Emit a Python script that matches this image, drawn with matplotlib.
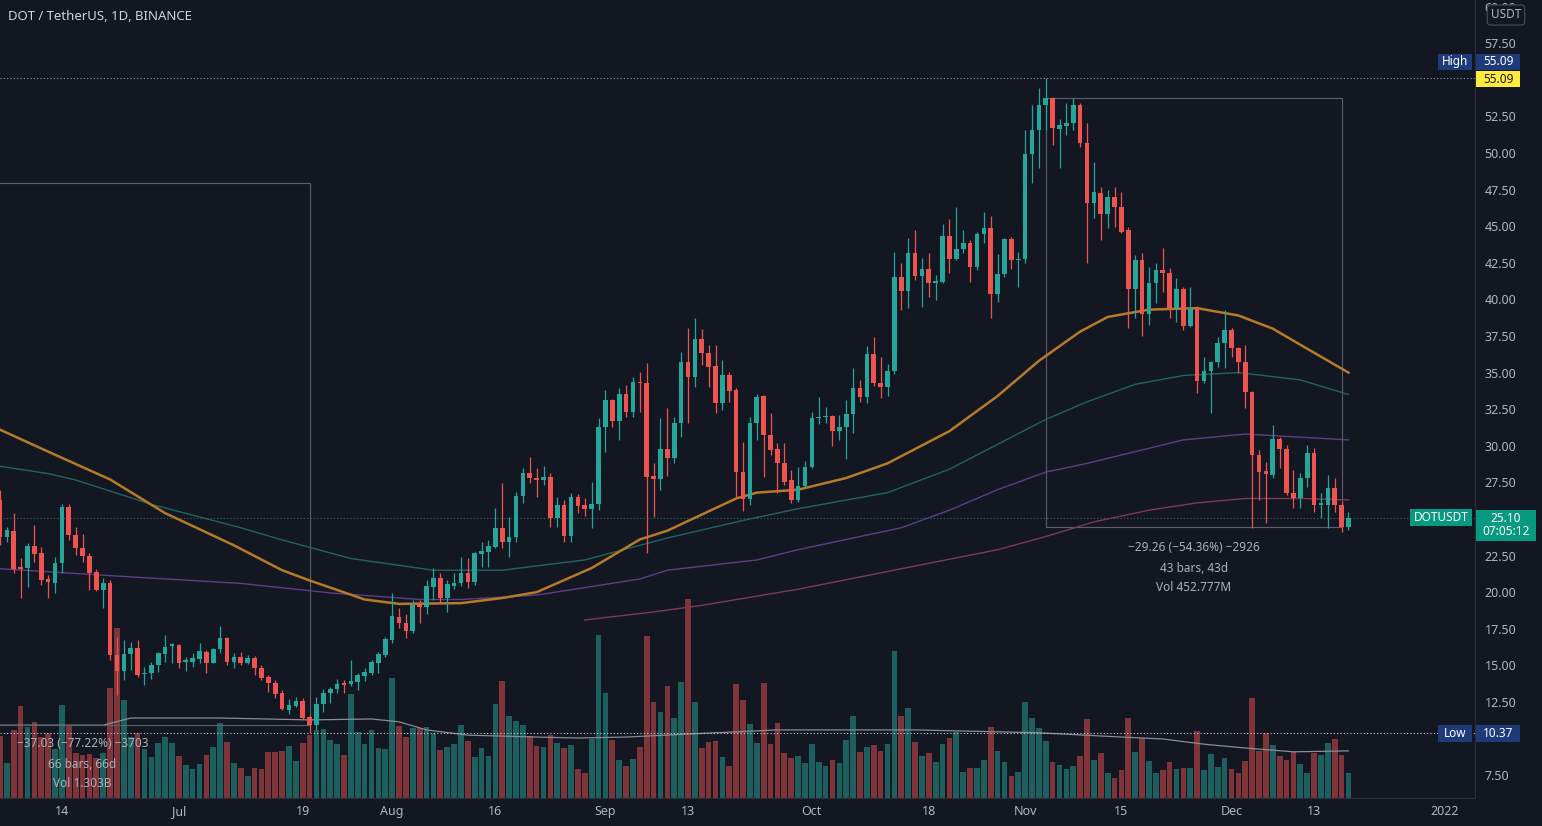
import matplotlib
matplotlib.use('Agg')

import numpy as np
import pandas as pd
import matplotlib.pyplot as plt
import matplotlib.dates as mdates
from matplotlib.patches import Rectangle

plt.rcParams['font.family'] = ['Noto Sans', 'DejaVu Sans']

# ---- daily candles, DOT/USDT, 2021-06-05 .. 2021-12-18 ----
dates = pd.date_range('2021-06-05', '2021-12-18', freq='D')

opens = [26.30, 23.80, 24.20, 21.70, 21.63, 23.15, 22.65, 20.92, 20.65, 21.97, 25.80, 23.90, 22.99, 22.50,
         21.40, 20.15, 20.60, 15.70, 14.64, 15.77, 16.16, 14.38, 14.45, 15.00, 15.77, 16.30,
         16.39, 15.20, 15.25, 15.41, 15.93, 15.18, 16.09, 16.84, 15.25, 15.60, 15.19, 15.48, 14.80, 14.18,
         13.77, 13.09, 11.95, 12.25, 12.59, 11.45, 10.91, 12.34, 13.09, 13.36, 13.77, 13.70, 13.89, 14.30,
         14.50, 15.19, 15.71,
         16.74, 18.33, 17.92, 17.37, 19.20, 19.00, 20.38, 20.95, 19.58, 20.40, 20.65, 21.29, 20.70, 22.61,
         22.77, 23.11, 24.36, 23.45, 23.79, 26.57, 28.12, 27.82, 27.66, 27.89, 25.05, 25.96, 23.84, 26.48,
         25.96, 25.66, 26.00,
         31.26, 33.13, 31.72, 33.54, 32.33, 34.34, 34.31, 27.94, 27.71, 29.76, 29.14, 31.54, 35.75, 34.72,
         37.27, 36.36, 35.45, 32.95, 34.84, 33.81, 28.23, 26.34, 31.54, 33.40, 30.74, 29.76, 28.80, 27.66,
         26.30, 27.25,
         28.53, 31.88, 31.99, 32.04, 31.03, 31.31, 32.15, 33.93, 33.31, 36.27, 34.31, 34.04, 35.13, 41.56,
         40.60, 43.15, 41.60, 42.06, 41.10, 41.21, 44.33, 42.74, 43.42, 43.83, 42.19, 44.47, 44.86, 40.37,
         41.74, 44.10, 42.69,
         42.75, 49.93, 51.57, 53.28, 53.74, 51.62, 51.87, 52.07, 53.28, 50.66, 46.61, 47.29, 45.81, 46.97,
         46.29, 44.74, 40.68, 42.69, 38.98, 41.14, 42.00, 41.82, 39.39, 40.70, 38.18, 39.39, 34.45, 35.11,
         35.74, 37.00,
         37.91, 36.65, 35.74, 33.69, 29.37, 28.30, 28.00, 30.44, 29.75, 26.80, 26.41, 27.77, 29.48, 25.95,
         25.95, 27.09, 25.95, 24.48]

highs = [27.00, 24.47, 25.38, 22.31, 23.33, 24.59, 23.10, 21.17, 22.38, 26.02, 26.02, 24.47, 24.00, 22.65,
         21.56, 20.94, 20.83, 16.96, 16.73, 16.60, 16.73, 14.91, 15.25, 15.93, 17.07, 16.50,
         16.45, 15.59, 15.82, 16.50, 16.05, 16.16, 17.69, 16.96, 15.86, 15.94, 15.71, 15.64, 15.03, 14.34,
         14.00, 13.32, 12.68, 12.86, 12.75, 11.61, 12.86, 13.36, 13.55, 14.05, 14.00, 15.37, 14.50, 14.80,
         15.37, 15.94, 16.96,
         19.92, 18.90, 18.51, 19.47, 19.47, 20.83, 21.63, 21.29, 20.83, 21.29, 22.43, 22.30, 22.77, 23.45,
         23.57, 25.73, 27.44, 25.16, 26.87, 28.46, 29.26, 28.46, 28.62, 28.12, 26.53, 26.30, 26.75, 26.71,
         26.41, 27.55, 31.88,
         33.81, 33.20, 33.93, 34.15, 34.72, 35.06, 35.68, 28.80, 31.88, 32.56, 31.99, 36.43, 38.02, 38.71,
         37.96, 36.89, 36.89, 35.86, 35.06, 33.93, 30.28, 31.99, 33.52, 33.47, 32.22, 30.17, 30.17, 28.35,
         28.57, 28.98,
         32.33, 33.36, 32.67, 32.10, 32.10, 33.13, 35.29, 34.50, 36.82, 37.41, 36.09, 35.60, 43.26, 42.51,
         44.17, 44.74, 42.81, 43.15, 41.67, 45.15, 45.47, 46.34, 44.74, 44.06, 44.63, 46.00, 45.70, 43.10,
         44.17, 44.24, 43.26,
         51.57, 53.28, 54.42, 55.09, 53.85, 52.30, 53.40, 53.74, 53.40, 52.03, 49.41, 47.70, 47.47, 47.70,
         47.35, 44.97, 43.03, 43.14, 42.23, 42.46, 43.48, 42.12, 41.44, 40.87, 40.87, 39.55, 36.09, 35.81,
         37.45, 39.27,
         38.02, 36.77, 36.88, 33.75, 29.71, 28.91, 31.42, 30.62, 30.05, 28.35, 28.11, 30.05, 29.82, 26.75,
         27.99, 27.77, 26.18, 25.50]

lows = [23.20, 23.45, 21.28, 19.58, 20.37, 22.08, 20.49, 19.58, 19.92, 21.28, 23.56, 22.54, 22.08, 20.15,
        20.10, 18.89, 15.36, 12.97, 14.00, 14.68, 14.23, 13.66, 14.04, 14.57, 15.25, 15.14,
        14.80, 14.64, 14.91, 15.18, 14.50, 15.14, 15.82, 15.02, 14.80, 15.03, 15.10, 14.34, 14.00, 13.20,
        12.75, 11.95, 11.68, 12.18, 11.32, 10.37, 10.59, 11.84, 12.41, 13.09, 13.09, 13.60, 13.32, 13.96,
        14.34, 14.46, 15.60,
        16.51, 17.53, 16.85, 17.19, 17.90, 18.51, 19.47, 19.24, 18.67, 20.20, 20.40, 20.30, 20.50, 21.74,
        21.74, 23.00, 23.00, 22.43, 23.45, 26.07, 27.48, 26.53, 27.32, 24.48, 24.48, 23.45, 23.45, 25.39,
        25.20, 24.36, 25.61,
        29.60, 31.26, 30.40, 31.94, 31.99, 32.33, 22.65, 25.16, 26.98, 27.94, 28.80, 30.62, 31.54, 33.99,
        35.52, 33.99, 32.22, 32.45, 33.00, 26.53, 25.57, 25.96, 30.40, 27.89, 29.37, 26.75, 27.32, 26.12,
        26.18, 27.10,
        28.46, 31.49, 31.58, 29.99, 30.40, 29.08, 30.85, 33.00, 32.90, 34.08, 33.25, 33.40, 34.90, 39.28,
        39.40, 41.33, 39.46, 40.19, 39.96, 41.10, 41.83, 42.69, 43.15, 41.21, 42.01, 43.83, 38.71, 39.85,
        41.56, 42.06, 40.87,
        42.50, 47.93, 48.96, 51.57, 50.55, 48.96, 51.23, 51.57, 50.43, 42.47, 45.54, 44.06, 44.85, 44.97,
        44.51, 38.02, 38.70, 37.50, 38.25, 39.73, 40.53, 38.70, 38.48, 37.91, 38.09, 33.58, 34.26, 32.21,
        35.40, 35.29,
        36.09, 34.95, 32.56, 24.36, 26.29, 24.70, 27.77, 28.46, 26.64, 25.73, 25.73, 27.20, 25.50, 25.04,
        24.36, 25.50, 24.13, 24.24]

closes = [23.80, 24.24, 21.56, 21.60, 23.15, 22.61, 20.83, 20.67, 21.97, 25.84, 23.90, 22.99, 22.47, 21.33,
          20.15, 20.60, 15.70, 14.64, 15.77, 16.16, 14.34, 14.50, 15.02, 15.82, 16.23, 16.43,
          15.14, 15.36, 15.52, 16.00, 15.18, 16.09, 16.84, 15.25, 15.59, 15.19, 15.53, 14.80, 14.12, 13.77,
          13.05, 12.00, 12.30, 12.59, 11.38, 10.91, 12.36, 13.09, 13.39, 13.73, 13.68, 13.91, 14.34, 14.53,
          15.21, 15.76, 16.78,
          18.37, 17.92, 17.37, 19.10, 19.00, 20.42, 20.99, 19.58, 20.56, 20.65, 21.29, 20.70, 22.65, 22.81,
          23.15, 24.36, 23.45, 23.79, 26.57, 28.12, 27.78, 27.66, 27.85, 25.05, 25.96, 23.84, 26.48, 25.91,
          25.66, 26.00, 31.26,
          33.13, 31.72, 33.54, 32.33, 34.34, 34.27, 27.89, 27.71, 29.76, 29.14, 31.54, 35.75, 34.72, 37.27,
          36.36, 35.41, 32.95, 34.84, 33.77, 28.23, 26.34, 31.54, 33.31, 30.74, 29.71, 28.80, 27.55, 26.30,
          27.25, 28.53,
          31.88, 31.99, 32.04, 31.03, 31.31, 32.15, 33.93, 33.31, 36.27, 34.31, 34.04, 35.13, 41.56, 40.60,
          43.20, 41.60, 42.06, 41.10, 41.26, 44.33, 42.74, 43.42, 43.83, 42.19, 44.47, 44.86, 40.37, 41.74,
          44.10, 42.69, 42.75,
          49.93, 51.57, 53.28, 53.74, 51.69, 51.92, 52.07, 53.28, 50.66, 46.61, 47.32, 45.81, 46.97, 46.29,
          44.62, 40.68, 42.69, 38.98, 41.14, 42.00, 41.82, 39.39, 40.68, 38.18, 39.39, 34.45, 35.11, 35.74,
          37.00, 37.91,
          36.65, 35.74, 33.69, 29.37, 28.23, 28.07, 30.44, 29.75, 26.80, 26.41, 27.77, 29.48, 25.95, 26.11,
          27.09, 25.95, 24.48, 25.10]

# volume, millions of DOT
volumes = [13.1, 7.4, 14.3, 19.4, 15.0, 15.9, 12.9, 13.6, 10.2, 19.5, 15.2, 9.4, 9.0, 9.2,
           8.3, 9.4, 23.2, 35.6, 20.6, 12.9, 13.6, 10.2, 8.7, 11.5, 12.9, 11.5,
           8.9, 6.9, 6.1, 7.1, 9.0, 10.8, 15.7, 11.7, 7.4, 6.2, 4.6, 6.2, 6.0, 9.6,
           9.6, 9.9, 10.9, 7.8, 11.5, 13.2, 14.3, 14.4, 12.2, 11.3, 9.0, 21.8, 13.9, 11.3,
           14.3, 10.4, 10.2,
           25.3, 15.1, 12.9, 14.6, 14.6, 15.0, 13.6, 10.1, 10.8, 11.3, 15.3, 12.0, 8.7, 10.4,
           8.9, 19.7, 24.6, 17.2, 16.2, 15.3, 13.1, 10.9, 10.8, 13.2, 11.5, 10.4, 11.1, 6.1,
           5.3, 12.3, 34.2,
           22.1, 12.2, 8.0, 6.8, 8.2, 10.8, 34.0, 20.2, 18.1, 23.5, 16.7, 24.4, 41.7, 20.2,
           10.6, 11.8, 12.0, 8.7, 6.8, 23.9, 20.6, 15.5, 11.6, 24.2, 11.3, 15.7, 9.5, 8.5,
           8.9, 7.3,
           11.3, 7.6, 6.8, 8.0, 7.4, 12.2, 17.2, 9.6, 10.8, 11.1, 9.9, 11.3, 30.9, 17.3,
           18.8, 11.8, 8.9, 9.5, 7.6, 11.3, 12.7, 13.8, 5.5, 6.4, 6.4, 8.0, 15.0, 9.9,
           7.6, 4.7, 5.5,
           20.2, 16.9, 14.8, 12.0, 7.6, 6.9, 6.1, 6.8, 8.9, 16.6, 8.0, 9.4, 5.3, 4.3,
           5.9, 16.9, 9.7, 12.7, 7.8, 5.2, 5.9, 7.5, 6.1, 6.4, 6.4, 14.1, 5.9, 9.2,
           6.6, 8.5,
           6.1, 5.2, 7.8, 21.1, 9.9, 13.7, 11.1, 8.9, 8.0, 9.7, 7.1, 5.2, 9.4, 9.0,
           11.6, 12.4, 9.0, 5.3]

# moving averages (date, value)
ma_orange_dates = ['2021-06-05', '2021-06-12', '2021-06-21', '2021-06-29', '2021-07-09', '2021-07-16',
                   '2021-07-20', '2021-07-28', '2021-08-02', '2021-08-11', '2021-08-17', '2021-08-22',
                   '2021-08-30', '2021-09-06', '2021-09-10', '2021-09-15', '2021-09-20', '2021-09-23',
                   '2021-09-29', '2021-10-06', '2021-10-12', '2021-10-21', '2021-10-28', '2021-11-03',
                   '2021-11-09', '2021-11-13', '2021-11-19', '2021-11-26', '2021-12-02', '2021-12-07',
                   '2021-12-11', '2021-12-18']
ma_orange = [31.1, 29.6, 27.7, 25.4, 23.2, 21.5, 20.8, 19.5, 19.2, 19.25, 19.6, 20.0, 21.65, 23.6,
             24.2, 25.3, 26.4, 26.8, 27.0, 27.8, 28.8, 31.0, 33.4, 35.8, 37.8, 38.8, 39.3, 39.4,
             38.9, 38.0, 36.9, 35.0]

ma_teal_dates = ['2021-06-05', '2021-06-12', '2021-06-16', '2021-06-27', '2021-07-10', '2021-07-16',
                 '2021-07-26', '2021-08-07', '2021-08-17', '2021-08-29', '2021-09-10', '2021-09-21',
                 '2021-09-29', '2021-10-12', '2021-10-21', '2021-10-28', '2021-11-04', '2021-11-10',
                 '2021-11-17', '2021-11-24', '2021-12-02', '2021-12-11', '2021-12-18']
ma_teal = [28.6, 28.1, 27.66, 26.0, 24.4, 23.57, 22.3, 21.5, 21.5, 22.2, 23.7, 24.9, 25.7, 26.8,
           28.4, 30.1, 31.8, 33.0, 34.2, 34.8, 35.0, 34.5, 33.5]

ma_purple_dates = ['2021-06-05', '2021-06-22', '2021-07-10', '2021-07-23', '2021-08-05', '2021-08-11',
                   '2021-08-22', '2021-09-06', '2021-09-10', '2021-09-23', '2021-09-29', '2021-10-06',
                   '2021-10-14', '2021-10-21', '2021-10-28', '2021-11-04', '2021-11-10', '2021-11-24',
                   '2021-12-03', '2021-12-18']
ma_purple = [21.6, 21.1, 20.6, 19.95, 19.5, 19.5, 19.8, 20.9, 21.5, 22.2, 22.9, 23.6, 24.4, 25.6,
             27.0, 28.2, 28.8, 30.4, 30.8, 30.4]

ma_pink_dates = ['2021-08-29', '2021-09-08', '2021-09-15', '2021-09-29', '2021-10-14', '2021-10-28',
                 '2021-11-04', '2021-11-11', '2021-11-19', '2021-11-26', '2021-12-03', '2021-12-11',
                 '2021-12-18']
ma_pink = [18.1, 18.65, 19.1, 20.2, 21.6, 22.9, 23.8, 24.8, 25.6, 26.1, 26.4, 26.4, 26.3]

vol_ma_dates = ['2021-06-05', '2021-06-20', '2021-06-24', '2021-07-07', '2021-07-20', '2021-07-29',
                '2021-08-02', '2021-08-06', '2021-08-12', '2021-08-22', '2021-08-28', '2021-09-04',
                '2021-09-14', '2021-09-26', '2021-10-16', '2021-11-03', '2021-11-15', '2021-11-21',
                '2021-11-27', '2021-12-03', '2021-12-10', '2021-12-18']
vol_ma = [15.3, 15.3, 16.8, 16.8, 16.4, 16.6, 16.0, 14.3, 13.2, 12.8, 12.6, 12.8, 13.5, 14.3,
          14.3, 13.7, 12.8, 12.4, 11.3, 10.5, 9.7, 9.9]

tick_dates = ['2021-06-14', '2021-07-01', '2021-07-19', '2021-08-01', '2021-08-16', '2021-09-01',
              '2021-09-13', '2021-10-01', '2021-10-18', '2021-11-01', '2021-11-15', '2021-12-01',
              '2021-12-13', '2022-01-01']
tick_labels = ['14', 'Jul', '19', 'Aug', '16', 'Sep', '13', 'Oct', '18', 'Nov', '15', 'Dec', '13', '2022']

# price scale; 10.00, 25.00 and 55.00 sit under the price tags
price_ticks = [7.5, 12.5, 15.0, 17.5, 20.0, 22.5, 27.5, 30.0, 32.5, 35.0, 37.5, 40.0, 42.5, 45.0,
               47.5, 50.0, 52.5, 57.5, 60.0]

# ---- styling ----
BG = '#131722'
UP = '#26a69a'
DN = '#ef5350'
TXT = '#b2b5be'
GRID = '#2a2e39'
NAVY = '#1e3a78'

W, H = 1542, 826
PX = 14.64          # pixels per 1 USDT on the price scale
fig = plt.figure(figsize=(W / 100, H / 100), dpi=100, facecolor=BG)
rect = [0, 28 / H, 1475 / W, 798 / H]
axv = fig.add_axes(rect, facecolor=BG)
ax = fig.add_axes(rect, facecolor='none', sharex=axv)

x = mdates.date2num(dates)
o = np.array(opens); h = np.array(highs); l = np.array(lows); c = np.array(closes)
up = c >= o
col = np.where(up, UP, DN)

# volume (own hidden scale)
vcol = np.where(up, '#1d5f5e', '#7e3438')
axv.bar(x, volumes, width=0.82, color=vcol, zorder=1)
axv.plot(mdates.date2num(pd.to_datetime(vol_ma_dates)), vol_ma, color='#8a8d96', lw=0.9, zorder=2)
axv.set_ylim(0, 167.6)
axv.axis('off')

# moving averages
ax.plot(mdates.date2num(pd.to_datetime(ma_pink_dates)), ma_pink, color='#7e3a52', lw=1.0, zorder=2)
ax.plot(mdates.date2num(pd.to_datetime(ma_purple_dates)), ma_purple, color='#5e3d86', lw=1.0, zorder=2)
ax.plot(mdates.date2num(pd.to_datetime(ma_teal_dates)), ma_teal, color='#21645f', lw=1.0, zorder=2)
ax.plot(mdates.date2num(pd.to_datetime(ma_orange_dates)), ma_orange, color='#b57b28', lw=1.8, zorder=2)

# candles
ax.vlines(x, l, h, colors=col, lw=0.9, zorder=3)
body = np.maximum(np.abs(c - o), 0.07)
ax.bar(x, body, bottom=np.minimum(o, c), width=0.68, color=col, zorder=4)

# high / low / last price lines
ax.axhline(55.09, color='#9598a1', lw=0.8, ls=(0, (1, 2)), zorder=1)
ax.axhline(10.37, color='#c8cad0', lw=0.8, ls=(0, (1, 2)), zorder=1)
ax.axhline(25.10, color='#2a6f68', lw=0.8, ls=(0, (1, 2)), zorder=1)

# price-range boxes
d0 = mdates.date2num(pd.Timestamp('2021-05-15'))
d1 = mdates.date2num(pd.Timestamp('2021-07-20'))
ax.add_patch(Rectangle((d0, 10.92), d1 - d0, 47.95 - 10.92, fill=False, ec='#5d606b', lw=0.8, zorder=1))
d2 = mdates.date2num(pd.Timestamp('2021-11-04'))
d3 = mdates.date2num(pd.Timestamp('2021-12-17'))
ax.add_patch(Rectangle((d2, 24.48), d3 - d2, 53.74 - 24.48, fill=False, ec='#5d606b', lw=0.8, zorder=1))

mtxt = dict(color='#aeb1ba', fontsize=8.5, ha='center', va='center', zorder=6)
cx1 = (d0 + d1) / 2
ax.text(cx1, 9.63, '\u221237.03 (\u221277.22%) \u22123703', **mtxt)
ax.text(cx1, 8.26, '66 bars, 66d', **mtxt)
ax.text(cx1, 6.90, 'Vol 1.303B', **mtxt)
cx2 = (d2 + d3) / 2
ax.text(cx2, 23.02, '\u221229.26 (\u221254.36%) \u22122926', **mtxt)
ax.text(cx2, 21.65, '43 bars, 43d', **mtxt)
ax.text(cx2, 20.30, 'Vol 452.777M', **mtxt)

# axes, ticks
ax.set_xlim(x[0], x[0] + 1475 / 6.88)
ax.set_ylim(5.94, 60.45)
ax.yaxis.tick_right()
ax.set_yticks(price_ticks)
ax.set_yticklabels(['%.2f' % v for v in price_ticks])
ax.set_xticks(mdates.date2num(pd.to_datetime(tick_dates)))
ax.set_xticklabels(tick_labels)
ax.tick_params(axis='y', length=0, pad=7, labelsize=9, labelcolor=TXT)
ax.tick_params(axis='x', length=0, pad=5, labelsize=9, labelcolor=TXT)
for s in ['top', 'left']:
    ax.spines[s].set_visible(False)
ax.spines['right'].set_color(GRID)
ax.spines['bottom'].set_color(GRID)

# tags on the price scale: left edge / width in pixels, centre at a price
yt = ax.get_yaxis_transform()
def tag(x_px, w_px, y_mid, text, fc, tc, h_px=16, bold=True, lines=1):
    hh = h_px * lines / PX
    ax.add_patch(Rectangle((x_px / 1475, y_mid - hh / 2), w_px / 1475, hh, transform=yt,
                           fc=fc, ec='none', clip_on=False, zorder=9))
    ax.text((x_px + w_px / 2) / 1475, y_mid, text, transform=yt, ha='center', va='center',
            color=tc, fontsize=8.5, fontweight='bold' if bold else 'normal',
            linespacing=1.05, clip_on=False, zorder=10)

tag(1438, 34, 55.09 + 16.5 / PX, 'High', NAVY, 'white')
tag(1476, 44, 55.09 + 16.5 / PX, '55.09', NAVY, 'white')
tag(1476, 44, 55.09 - 1.0 / PX, '55.09', '#ffeb3b', '#131722', bold=False)
tag(1410, 62, 25.10, 'DOTUSDT', '#089981', 'white', h_px=17)
tag(1476, 60, 25.10 - 7.5 / PX, '25.10\n07:05:12', '#089981', 'white', h_px=15.5, bold=False, lines=2)
tag(1438, 34, 10.37, 'Low', NAVY, 'white', h_px=17, bold=False)
tag(1476, 44, 10.37, '10.37', NAVY, 'white', h_px=17)

fig.text(1506 / W, 1 - 15 / H, 'USDT', color=TXT, fontsize=8.5, ha='center', va='center',
         bbox=dict(boxstyle='round,pad=0.3', fc=BG, ec='#4a4e59', lw=0.8), zorder=10)
fig.text(8 / W, 1 - 16 / H, 'DOT / TetherUS, 1D, BINANCE', color='#d1d4dc', fontsize=9.5,
         ha='left', va='center')

fig.savefig('out.png', dpi=100, facecolor=BG)
